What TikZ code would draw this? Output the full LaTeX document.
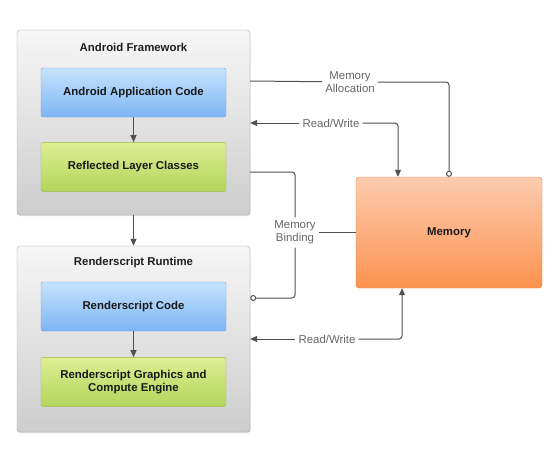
\documentclass[tikz,border=0pt]{standalone}
\usepackage{fontspec}
\setmainfont{Liberation Sans}
\usetikzlibrary{positioning,arrows.meta,shadows}
\definecolor{fwtop}{HTML}{F6F6F6}
\definecolor{fwbot}{HTML}{CDCDCD}
\definecolor{fwline}{HTML}{A6A6A6}
\definecolor{codetop}{HTML}{C6E3FD}
\definecolor{codebot}{HTML}{7CB5F4}
\definecolor{codeline}{HTML}{6FA5E8}
\definecolor{layertop}{HTML}{DFEE94}
\definecolor{layerbot}{HTML}{B3D55B}
\definecolor{layerline}{HTML}{98BA48}
\definecolor{memtop}{HTML}{FDCCB0}
\definecolor{membot}{HTML}{FC924F}
\definecolor{memline}{HTML}{E98447}
\definecolor{linkcol}{HTML}{505050}
\definecolor{lblcol}{HTML}{666666}

\begin{document}
\begin{tikzpicture}[x=1pt,y=-1pt,font=\fontsize{11.4}{13.4}\selectfont,
    outer/.style = {draw=fwline, rounded corners=3pt, top color=fwtop, bottom color=fwbot, minimum width=233pt, drop shadow={shadow xshift=0.6pt, shadow yshift=-1pt, opacity=0.25}},
    title/.style = {font=\fontsize{11.4}{13.4}\selectfont\bfseries, text=black!88},
    inner/.style = {rounded corners=2pt, minimum width=185pt, minimum height=49pt, align=center, font=\fontsize{11.4}{13.4}\selectfont\bfseries, text=black!90},
    codebox/.style = {inner, draw=codeline, top color=codetop, bottom color=codebot},
    layerbox/.style = {inner, draw=layerline, top color=layertop, bottom color=layerbot},
    membox/.style = {rounded corners=3pt, draw=memline, top color=memtop, bottom color=membot, minimum width=186pt, minimum height=111pt, font=\fontsize{11.4}{13.4}\selectfont\bfseries, text=black!90},
    lbl/.style = {fill=white, text=lblcol, align=center, inner sep=3pt},
    link/.style = {draw=linkcol, line width=1pt, rounded corners=3pt},
    arr/.style = {link, -{Triangle[length=7pt,width=6pt]}},
    dot/.style = {link, -{Circle[open,length=6pt,width=6pt]}}]
  \useasboundingbox (0,0) rectangle (558,463);

  \node[outer, minimum height=185pt] (fw) at (133.5,122.5) {};
  \node[title] (fwtitle) at (133.5,47) {Android Framework};
  \node[codebox] (app) at (133.5,92.5) {Android Application Code};
  \node[layerbox, below=25pt of app] (refl) {Reflected Layer Classes};

  \node[outer, minimum height=186pt] (rt) at (133.5,339) {};
  \node[title] (rttitle) at (133.5,263) {Renderscript Runtime};
  \node[codebox] (rscode) at (133.5,306.5) {Renderscript Code};
  \node[layerbox, below=26pt of rscode] (engine) {Renderscript Graphics and\\Compute Engine};

  \node[membox] (mem) at (449,232.5) {Memory};

  \node[lbl] (alloc) at (350,82) {Memory\\Allocation};
  \node[lbl] (rwtop) at (331,123) {Read/Write};
  \node[lbl] (bind) at (295,232.5) {Memory\\Binding};
  \node[lbl] (rwbot) at (327,339) {Read/Write};

  \coordinate (yalloc) at (0,81);
  \coordinate (yrwtop) at (0,123);
  \coordinate (ybind) at (0,172);
  \coordinate (ybindrt) at (0,298);
  \coordinate (yrwbot) at (0,339);
  \coordinate (xrwtop) at (398,0);
  \coordinate (xrwbot) at (402,0);

  \draw[arr] (app) -- (refl);
  \draw[arr] (rscode) -- (engine);
  \draw[arr] (fw) -- (rt);

  \draw[link] (fw.east |- yalloc) -- (alloc);
  \draw[dot] (alloc) -| (mem.north);

  \draw[arr] (rwtop) -- (fw.east |- yrwtop);
  \draw[arr] (rwtop) -| (mem.north -| xrwtop);

  \draw[link] (fw.east |- ybind) -| (bind);
  \draw[dot] (bind) |- (rt.east |- ybindrt);
  \draw[link] (bind) -- (mem);

  \draw[arr] (rwbot) -- (rt.east |- yrwbot);
  \draw[arr] (rwbot) -| (mem.south -| xrwbot);
\end{tikzpicture}
\end{document}
